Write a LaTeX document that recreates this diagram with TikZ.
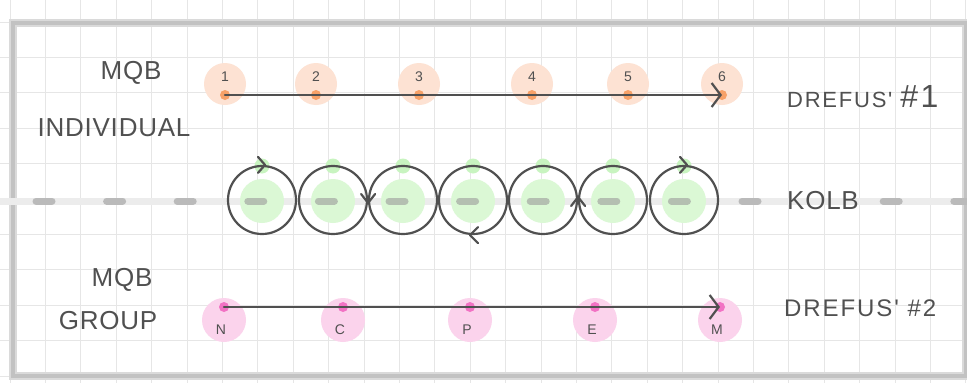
\documentclass[tikz,border=0pt]{standalone}
\usepackage{fontspec}
\setmainfont{Liberation Sans}
\newfontfamily\hand[LetterSpace=3]{Liberation Sans}
\newfontfamily\handw[LetterSpace=8]{Liberation Sans}
\usetikzlibrary{arrows.meta}
\definecolor{gridc}{HTML}{E6E6E6}
\definecolor{framec}{HTML}{C2C2C2}
\definecolor{ink}{HTML}{505050}
\definecolor{orangeL}{HTML}{FDE2D3}
\definecolor{orangeD}{HTML}{F7A168}
\definecolor{greenL}{HTML}{DBF8D5}
\definecolor{greenD}{HTML}{C8F4C0}
\definecolor{pinkL}{HTML}{FBD3EC}
\definecolor{pinkD}{HTML}{F272C4}
\definecolor{dashc}{HTML}{9A9A9A}
\definecolor{bandc}{HTML}{ECECEC}
\tikzset{
  gridline/.style={gridc, line width=1pt},
  obig/.style={circle, fill=orangeL, minimum size=42pt, inner sep=0pt},
  odot/.style={circle, fill=orangeD, minimum size=10pt, inner sep=0pt},
  pbig/.style={circle, fill=pinkL, minimum size=44pt, inner sep=0pt},
  pdot/.style={circle, fill=pinkD, minimum size=10pt, inner sep=0pt},
  gbig/.style={circle, fill=greenL, minimum size=44pt, inner sep=0pt},
  gdot/.style={circle, fill=greenD, minimum size=15pt, inner sep=0pt},
  kring/.style={circle, draw=ink, line width=2.2pt, minimum size=68pt, inner sep=0pt},
  inkline/.style={ink, line width=2.2pt, line cap=round, line join=round},
  flowarrow/.style={inkline, -{Straight Barb[length=9pt, width=24pt, line width=2.2pt]}},
  dashseg/.style={dashc, opacity=0.6, line width=7pt, line cap=round},
  biglabel/.style={text=ink, font=\hand\fontsize{26}{28}\selectfont, inner sep=0pt},
  midlabel/.style={text=ink, font=\handw\fontsize{22}{24}\selectfont, inner sep=0pt},
  smalllabel/.style={text=ink, font=\fontsize{14}{16}\selectfont, inner sep=0pt},
}
\begin{document}
\begin{tikzpicture}[x=1pt, y=-1pt]
\useasboundingbox (0,0) rectangle (967,383);
\fill[white] (0,0) rectangle (967,383);
% grid
\foreach \i in {0,...,27} \draw[gridline] ({10+35.4*\i},0) -- ++(0,383);
\foreach \j in {0,...,10} \draw[gridline] (0,{22+35.4*\j}) -- ++(967,0);
% frame
\draw[framec!60, line width=8pt] (13,23) rectangle (966,376);
\draw[framec, line width=4.5pt] (13,23) rectangle (966,376);

% Kolb band
\draw[bandc, line width=7pt] (0,201) -- (967,201);
% green discs
\foreach \x [count=\k] in {262,333,403,473,543,613,684} {
  \node[gbig] (g\k) at (\x,201) {};
  \node[gdot] (t\k) at (\x,166) {};
}
% dashes
\foreach \k in {0,...,10,12,13} \draw[dashseg] ({44+70.6*\k-8},201) -- ++(16,0);
% rings
\foreach \x [count=\k] in {262,333,403,473,543,613,684} \node[kring] (k\k) at (\x,200) {};
% ring arrowheads (all clockwise)
\draw[inkline, shift={(k1.north)}] (-4,-8) -- (3,0) -- (-4,8);
\draw[inkline, shift={(k2.east)}] (-7,-6) -- (0,3) -- (7,-6);
\draw[inkline, shift={(k4.south)}] (5,-8) -- (-3,0) -- (5,8);
\draw[inkline, shift={(k5.east)}] (-7,6) -- (0,-3) -- (7,6);
\draw[inkline, shift={(k7.north)}] (-4,-8) -- (3,0) -- (-4,8);
\node[biglabel] (kolb) at (823,201) {KOLB};

% Dreyfus #1 (orange)
\foreach \x/\t [count=\k] in {225/1,316/2,419/3,532/4,628/5,722/6} {
  \node[obig] (ob\k) at (\x,84) {};
  \node[odot] (o\k) at (\x,95) {};
  \node[smalllabel] (ol\k) at (\x,77) {\t};
}
\draw[flowarrow] (o1.center) -- (o6.center);
\node[biglabel] (mqb1) at (131,73) {MQB};
\node[biglabel] (indiv) at (114,128) {INDIVIDUAL};
\node[midlabel, anchor=west] (dre1) at (787,97) {DREFUS' \fontsize{32}{34}\selectfont\#1};

% Dreyfus #2 (pink)
\foreach \x/\t [count=\k] in {224/N,343/C,470/P,595/E,720/M} {
  \node[pbig] (pb\k) at (\x,320) {};
  \node[pdot] (p\k) at (\x,307) {};
  \node[smalllabel] (pl\k) at (\x-3,330) {\t};
}
\draw[flowarrow] (p1.center) -- (p5.center);
\node[biglabel] (mqb2) at (122,280) {MQB};
\node[biglabel] (group) at (108,321) {GROUP};
\node[midlabel, anchor=west, font=\handw\fontsize{24}{26}\selectfont] (dre2) at (784,308) {DREFUS' \#2};
\end{tikzpicture}
\end{document}
